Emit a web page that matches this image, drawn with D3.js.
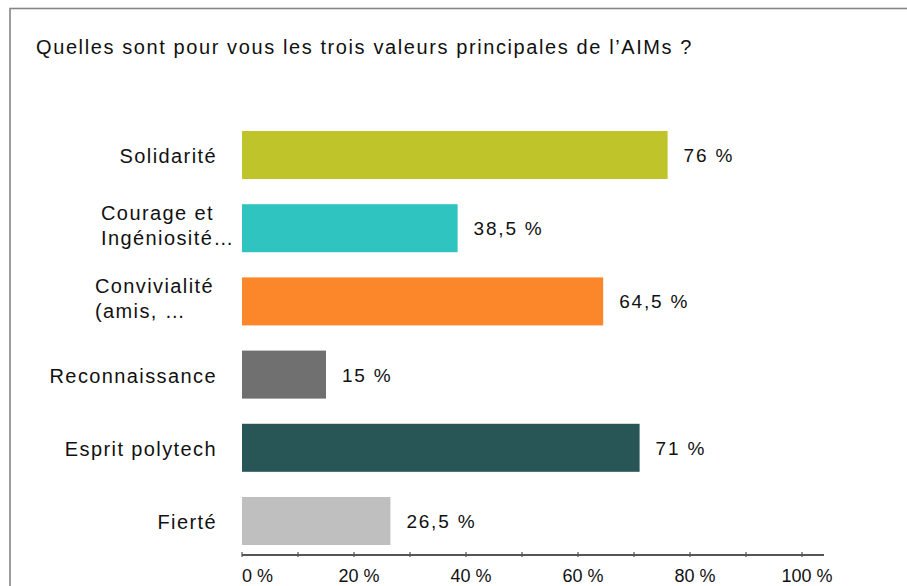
<!DOCTYPE html>
<html>
<head>
<meta charset="utf-8">
<script src="https://cdn.jsdelivr.net/npm/d3@7"></script>
<style>
  html, body { margin: 0; padding: 0; background: #fff; }
  svg { display: block; }
  text { font-family: "Liberation Sans", Arial, sans-serif; fill: #111; }
</style>
</head>
<body>
<svg id="chart" width="907" height="586"></svg>
<script>
const title = "Quelles sont pour vous les trois valeurs principales de l\u2019AIMs ?";
const categories = [
  ["Solidarité"],
  ["Courage et", "Ingéniosité…"],
  ["Convivialité", "(amis, …"],
  ["Reconnaissance"],
  ["Esprit polytech"],
  ["Fierté"]
];
const values = [76, 38.5, 64.5, 15, 71, 26.5];
const valueLabels = ["76 %", "38,5 %", "64,5 %", "15 %", "71 %", "26,5 %"];
const colors = ["#c0c42b", "#2fc4c0", "#fc872b", "#707070", "#285555", "#bfbfbf"];
const tickValues = [0, 10, 20, 30, 40, 50, 60, 70, 80, 90, 100];
const tickLabelValues = [0, 20, 40, 60, 80, 100];

const svg = d3.select("#chart");

// frame
svg.append("rect")
  .attr("x", 10).attr("y", 8.5)
  .attr("width", 1000).attr("height", 1000)
  .attr("fill", "none").attr("stroke", "#858585").attr("stroke-width", 1.6);

svg.append("text")
  .attr("x", 36).attr("y", 54)
  .style("font-size", "20px")
  .style("letter-spacing", "1.6px")
  .text(title);

const x = d3.scaleLinear().domain([0, 100]).range([242, 802]);
const idx = d3.range(categories.length);
const y = d3.scaleBand().domain(idx).range([131, 545]).paddingInner(0.344).paddingOuter(0);

// bars
svg.append("g").selectAll("rect").data(idx).join("rect")
  .attr("x", x(0))
  .attr("y", i => y(i))
  .attr("width", i => x(values[i]) - x(0))
  .attr("height", y.bandwidth())
  .attr("fill", i => colors[i]);

// value labels
svg.append("g").selectAll("text").data(idx).join("text")
  .attr("x", i => x(values[i]) + 16)
  .attr("y", i => y(i) + y.bandwidth() / 2 + 7)
  .style("font-size", "19px")
  .style("letter-spacing", "1.8px")
  .text(i => valueLabels[i]);

// category labels
const catG = svg.append("g");
idx.forEach(i => {
  const lines = categories[i];
  const c = y(i) + y.bandwidth() / 2;
  if (lines.length === 1) {
    catG.append("text")
      .attr("x", 217).attr("y", c + 8)
      .attr("text-anchor", "end")
      .style("font-size", "20px")
      .style("letter-spacing", "1.4px")
      .text(lines[0]);
  } else {
    const t = catG.append("text")
      .attr("y", c - 8)
      .style("font-size", "20px")
      .style("letter-spacing", "1.4px")
      .text(lines[0]);
    const w = t.node().getComputedTextLength();
    const sx = 214 - w;
    t.attr("x", sx);
    catG.append("text")
      .attr("x", sx).attr("y", c + 17)
      .style("font-size", "20px")
      .style("letter-spacing", "1.4px")
      .text(lines[1]);
  }
});

// axis
const axisY = 555;
svg.append("line")
  .attr("x1", x(0)).attr("x2", 824)
  .attr("y1", axisY).attr("y2", axisY)
  .attr("stroke", "#555").attr("stroke-width", 2);
svg.append("g").selectAll("line").data(tickValues).join("line")
  .attr("x1", d => x(d)).attr("x2", d => x(d))
  .attr("y1", axisY - 3).attr("y2", axisY + 2)
  .attr("stroke", "#555").attr("stroke-width", 1.2);
svg.append("g").selectAll("text").data(tickLabelValues).join("text")
  .attr("x", d => d === 0 ? x(0) : x(d) + 5)
  .attr("y", 582)
  .attr("text-anchor", d => d === 0 ? "start" : "middle")
  .style("font-size", "18px")
  .text(d => d + " %");
</script>
</body>
</html>
